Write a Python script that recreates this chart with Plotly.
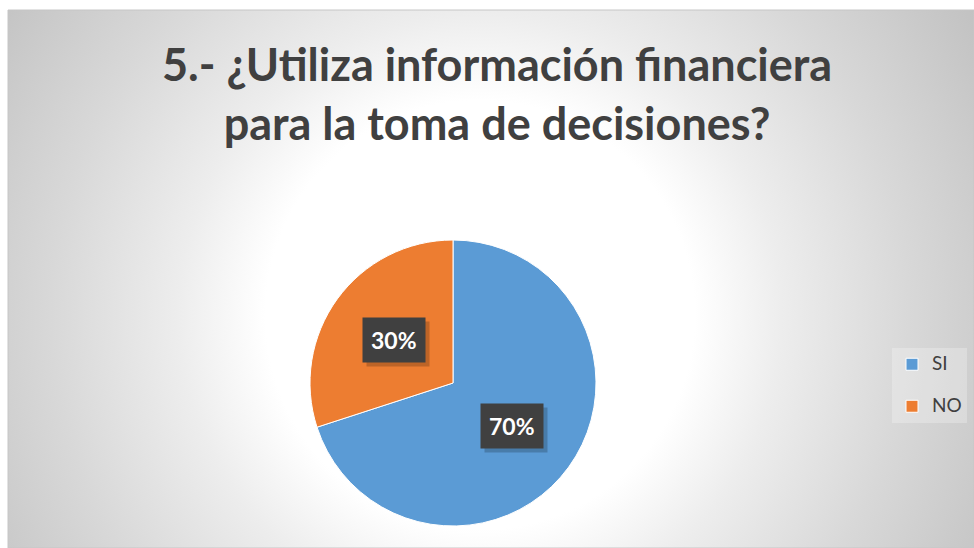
import base64
import math
import plotly.graph_objects as go

# ---- data ----
categories = ["SI", "NO"]
values = [70, 30]
colors = ["#5B9BD5", "#ED7D31"]
title_lines = ["5.- ¿Utiliza información financiera", "para la toma de decisiones?"]

W, H = 974, 548
FX0, FY0 = 8, 10  # chart frame top-left (px)

# radial gradient background as svg image
cx, cy = 480 - FX0, 315 - FY0
svg = f'''<svg xmlns="http://www.w3.org/2000/svg" width="{W-FX0}" height="{H-FY0}" viewBox="0 0 {W-FX0} {H-FY0}" preserveAspectRatio="none">
<defs><radialGradient id="g" gradientUnits="userSpaceOnUse" cx="{cx}" cy="{cy}" r="580">
<stop offset="0" stop-color="#ffffff"/>
<stop offset="0.37" stop-color="#ffffff"/>
<stop offset="0.52" stop-color="#ededed"/>
<stop offset="0.74" stop-color="#d8d8d8"/>
<stop offset="1" stop-color="#c2c2c2"/>
</radialGradient></defs>
<rect x="0" y="0" width="{W-FX0}" height="{H-FY0}" fill="url(#g)"/>
</svg>'''
svg_uri = "data:image/svg+xml;base64," + base64.b64encode(svg.encode()).decode()

# pie geometry (px)
PCX, PCY, PR = 453, 383, 143
dom_x = [(PCX - PR) / W, (PCX + PR) / W]
dom_y = [1 - (PCY + PR) / H, 1 - (PCY - PR) / H]

# legend labels: a blank line after all but the last gives the reference spacing
legend_labels = ["<span style='font-size:19px'>" + c + "</span>" + ("<br> " if i < len(categories) - 1 else "")
                 for i, c in enumerate(categories)]

fig = go.Figure()
fig.add_trace(go.Pie(
    labels=legend_labels, values=values, sort=False, direction="clockwise", rotation=0,
    marker=dict(colors=colors, line=dict(color="#ffffff", width=1)),
    textinfo="none", hoverinfo="percent",
    domain=dict(x=dom_x, y=dom_y),
))

# data labels positioned at mid-angle of each slice
annotations = []
total = sum(values)
start = 0.0
for v in values:
    frac = v / total
    mid = (start + frac / 2) * 2 * math.pi
    start += frac
    rr = 0.51 * PR
    lx = (PCX + rr * math.sin(mid)) / W
    ly = 1 - (PCY - rr * math.cos(mid)) / H
    txt = f"{round(frac*100)}%"
    common = dict(x=lx, y=ly, xref="paper", yref="paper", xanchor="center", yanchor="middle",
                  text=f"<b>{txt}</b>", showarrow=False, borderpad=8)
    # shadow
    annotations.append(dict(**common, font=dict(family="Lato", size=23, color="rgba(0,0,0,0)"),
                            bgcolor="rgba(0,0,0,0.2)", xshift=4, yshift=-4))
    annotations.append(dict(**common, font=dict(family="Lato", size=23, color="#ffffff"),
                            bgcolor="#404040"))

# title
annotations.append(dict(x=497 / W, y=1 - 93 / H, xref="paper", yref="paper", yanchor="middle",
                        xanchor="center",
                        text="<b>" + "<br>".join(title_lines) + "</b>", showarrow=False,
                        font=dict(family="Lato", size=45, color="#404040"), align="center"))

fig.update_layout(
    width=W, height=H,
    margin=dict(l=0, r=0, t=0, b=0),
    paper_bgcolor="#ffffff",
    showlegend=True,
    legend=dict(x=892 / W, y=1 - 348 / H, xanchor="left", yanchor="top", valign="top",
                font=dict(family="Lato", size=15, color="#404040"),
                bgcolor="rgba(255,255,255,0.25)", itemwidth=30),
    images=[dict(source=svg_uri, xref="paper", yref="paper", x=FX0 / W, y=1 - FY0 / H,
                 sizex=(W - FX0) / W, sizey=(H - FY0) / H, sizing="stretch",
                 xanchor="left", yanchor="top", layer="below")],
    shapes=[dict(type="rect", xref="paper", yref="paper", x0=FX0 / W, y0=0, x1=1, y1=1 - FY0 / H,
                 line=dict(color="#c6c6c6", width=1), fillcolor="rgba(0,0,0,0)", layer="below")],
    annotations=annotations,
)

fig.write_html("out.html", config={"displayModeBar": False},
               post_script="document.body.style.margin='0';")
